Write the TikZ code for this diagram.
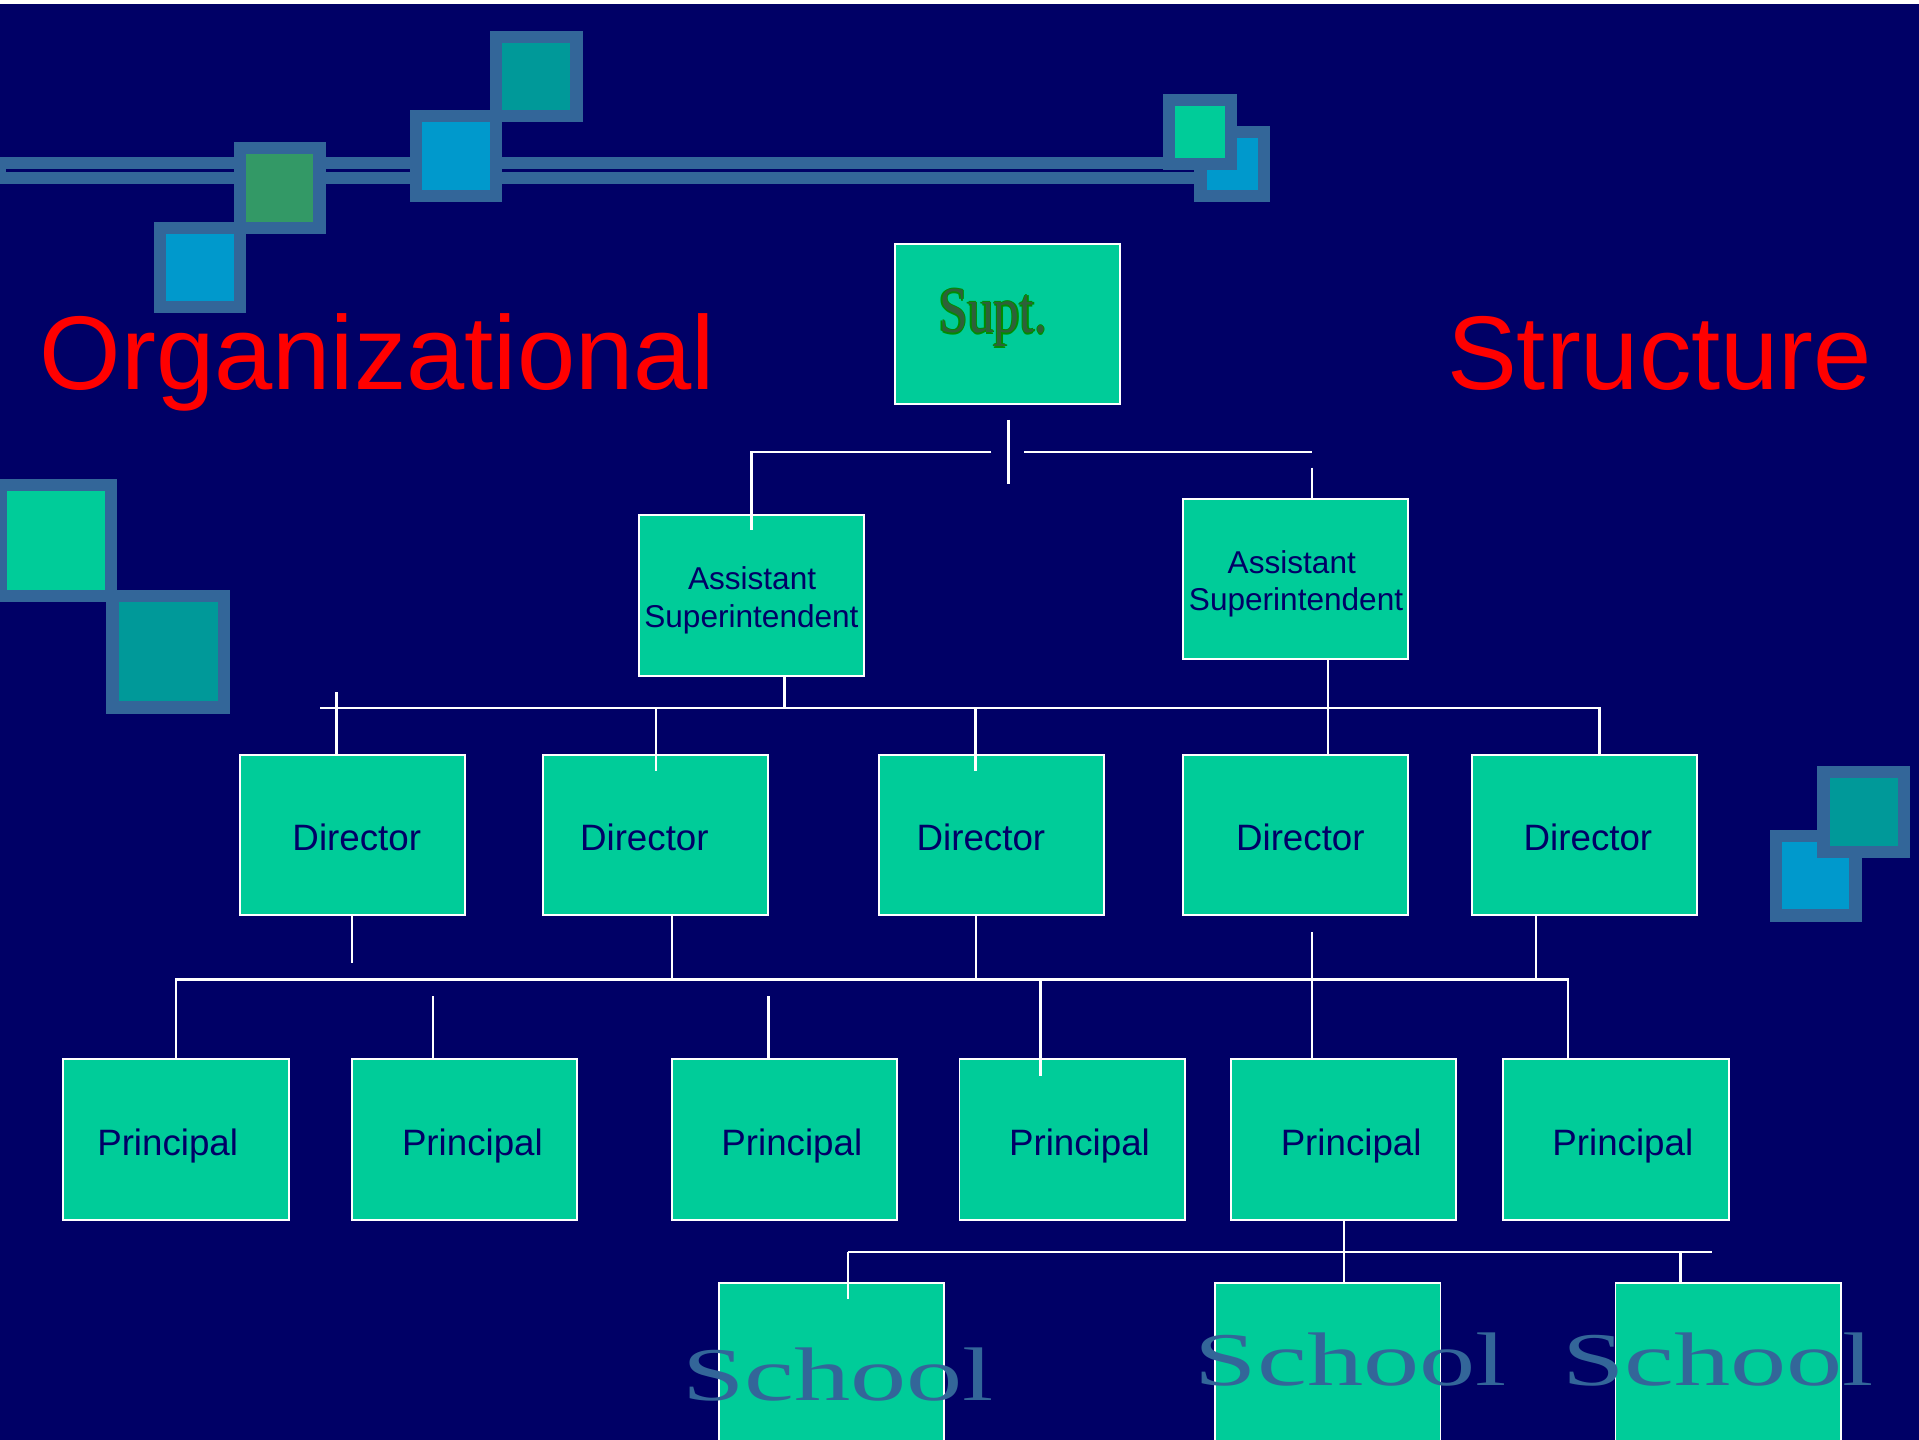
\documentclass[tikz,border=0pt]{standalone}
\usepackage{fontspec}
\setmainfont{Liberation Sans}
\newfontfamily\serifL{Liberation Serif}
\definecolor{navy}{HTML}{000066}
\definecolor{boxfill}{HTML}{00CC99}
\definecolor{sqb}{HTML}{336699}
\definecolor{sqteal}{HTML}{009999}
\definecolor{sqblue}{HTML}{0099CC}
\definecolor{sqgreen}{HTML}{339966}
\definecolor{schooltxt}{HTML}{336699}
\definecolor{suptgreen}{HTML}{008C00}
\definecolor{suptdark}{HTML}{2F5F3A}
\definecolor{titlered}{HTML}{FF0000}

\newcommand\decosq[5]{%
  \fill[sqb] (#1,#2) rectangle (#3,#4);
  \fill[#5] ({#1+10},{#2+10}) rectangle ({#3-10},{#4-10});}
\newcommand\supword{\scalebox{0.79}[1]{Supt.}}
\newcommand\schoolword{\scalebox{1.48}[1]{School}}

\tikzset{
 obox/.style={rectangle, fill=boxfill, draw=white, line width=0.8pt,
   minimum width=92pt, minimum height=65.5pt, inner sep=0pt},
 sbox/.style={obox, minimum height=90pt},
 conn/.style={draw=white, line width=1pt},
 dtext/.style={anchor=base, inner sep=0pt, text=navy, font=\fontsize{15}{18}\selectfont},
 atext/.style={anchor=base, inner sep=0pt, text=navy, font=\fontsize{12.9}{15}\selectfont},
 titletext/.style={anchor=base west, inner sep=0pt, text=titlered, font=\fontsize{42.8}{50}\selectfont},
 schooltext/.style={anchor=base west, inner sep=0pt, text=schooltxt, font=\serifL\fontsize{31}{36}\selectfont},
 supttext/.style={anchor=base west, inner sep=0pt, font=\serifL\fontsize{26.8}{30}\selectfont},
}

\begin{document}
\begin{tikzpicture}[x=0.5pt,y=-0.5pt]
\useasboundingbox (0,0) rectangle (1568,1176);
\clip (-20,-20) rectangle (1590,1196);
\fill[navy] (-20,-20) rectangle (1590,1196);
\fill[white] (-20,-20) rectangle (1590,3.3);

% decorative bars
\fill[sqb] (-20,128) rectangle (1000,150.6);
\fill[navy] (4.7,138.1) rectangle (995,140.8);

% decorative squares
\decosq{126}{181}{201}{256}{sqblue}
\decosq{191}{116}{266}{191}{sqgreen}
\decosq{335}{90}{410}{165}{sqblue}
\decosq{400}{25}{476}{100}{sqteal}
\decosq{976}{103}{1038}{165}{sqblue}
\decosq{950}{77}{1011}{139}{boxfill}
\decosq{-4}{391}{96}{492}{boxfill}
\decosq{87}{482}{188}{583}{sqteal}
\decosq{1446}{678}{1521}{753}{sqblue}
\decosq{1485}{626}{1561}{701}{sqteal}

% titles
\node[titletext] (torg) at (32,318) {Organizational};
\node[titletext] (tstr) at (1182,318) {Structure};

% boxes
\node[obox] (supt) at (823.25,264.5) {};
\node[obox] (as1) at (614,486.5) {};
\node[obox] (as2) at (1058.5,473) {};
\node[obox] (d1) at (288,682.5) {};
\node[obox] (d2) at (535.75,682.5) {};
\node[obox] (d3) at (810,682.5) {};
\node[obox] (d4) at (1058.7,682.5) {};
\node[obox] (d5) at (1294.6,682.5) {};
\node[obox] (p1) at (143.8,931) {};
\node[obox] (p2) at (379.3,931) {};
\node[obox] (p3) at (640.7,931) {};
\node[obox] (p4) at (876,931) {};
\node[obox] (p5) at (1097.9,931) {};
\node[obox] (p6) at (1320.4,931) {};
\node[sbox] (s1) at (679.5,1138) {};
\node[sbox] (s2) at (1085,1138) {};
\node[sbox] (s3) at (1412,1138) {};

% box texts
\node[supttext, text=suptgreen] (suptA) at (766,272) {\supword};
\node[supttext, text=suptgreen] (suptB) at (768,272) {\supword};
\node[supttext, text=suptgreen] (suptC) at (767,271) {\supword};
\node[supttext, text=suptgreen] (suptD) at (767,273) {\supword};
\node[supttext, text=suptdark] (suptE) at (767,272) {\supword};

\node[atext] (as1a) at (614.5,482) {Assistant};
\node[atext] (as1b) at (614,512.5) {Superintendent};
\node[atext] (as2a) at (1055.5,468.5) {Assistant};
\node[atext] (as2b) at (1059,499) {Superintendent};

\node[dtext] (d1t) at (291.5,695) {Director};
\node[dtext] (d2t) at (526.5,695) {Director};
\node[dtext] (d3t) at (801.5,695) {Director};
\node[dtext] (d4t) at (1062.5,695) {Director};
\node[dtext] (d5t) at (1297.5,695) {Director};

\node[dtext] (p1t) at (137,944) {Principal};
\node[dtext] (p2t) at (386,944) {Principal};
\node[dtext] (p3t) at (647,944) {Principal};
\node[dtext] (p4t) at (882,944) {Principal};
\node[dtext] (p5t) at (1104,944) {Principal};
\node[dtext] (p6t) at (1326,944) {Principal};

% connectors: Supt level
\coordinate (st1) at (824,343);
\coordinate (st2) at (824,395.5);
\draw[conn] (st1) -- (st2);
\coordinate (sl) at (810,369.5);
\coordinate (as1in) at (614,433);
\draw[conn] (sl) -- (sl -| as1in) -- (as1in);
\coordinate (sr) at (837,369.5);
\coordinate (sre) at (1072,369.5);
\draw[conn] (sr) -- (sre);
\coordinate (as2tick) at (1072,382);
\draw[conn] (as2tick) -- (as2.north -| as2tick);

% connectors: director bus
\coordinate (busL) at (261.5,578.5);
\coordinate (busR) at (1307,578.5);
\draw[conn] (busL) -- (busR) -- (d5.north -| busR);
\coordinate (j641) at (641,578.5);
\draw[conn] (as1.south -| j641) -- (j641);
\coordinate (j1085) at (1085,578.5);
\draw[conn] (as2.south -| j1085) -- (d4.north -| j1085);
\coordinate (d1tick) at (275,565.5);
\draw[conn] (d1tick) -- (d1.north -| d1tick);
\coordinate (j536) at (536,578.5);
\coordinate (d2in) at (536,630);
\draw[conn] (j536) -- (d2in);
\coordinate (j797) at (797,578.5);
\coordinate (d3in) at (797,630);
\draw[conn] (j797) -- (d3in);

% connectors: principal bus
\coordinate (bus2L) at (144,800.5);
\coordinate (bus2R) at (1281,800.5);
\draw[conn] (p1.north -| bus2L) -- (bus2L) -- (bus2R) -- (p6.north -| bus2R);
\coordinate (d1end) at (287.6,787);
\draw[conn] (d1.south -| d1end) -- (d1end);
\coordinate (k549) at (549,800.5);
\draw[conn] (d2.south -| k549) -- (k549);
\coordinate (k797) at (797.6,800.5);
\draw[conn] (d3.south -| k797) -- (k797);
\coordinate (d4start) at (1072,761.6);
\draw[conn] (d4start) -- (p5.north -| d4start);
\coordinate (k1255) at (1255,800.5);
\draw[conn] (d5.south -| k1255) -- (k1255);
\coordinate (p2tick) at (354,814);
\draw[conn] (p2tick) -- (p2.north -| p2tick);
\coordinate (p3tick) at (628,814);
\draw[conn] (p3tick) -- (p3.north -| p3tick);
\coordinate (k850) at (850,800.5);
\coordinate (p4in) at (850,879);
\draw[conn] (k850) -- (p4in);

% connectors: school bus
\coordinate (m1098) at (1098,1023);
\draw[conn] (p5.south -| m1098) -- (s2.north -| m1098);
\coordinate (bus3L) at (693,1023);
\coordinate (bus3R) at (1399,1023);
\draw[conn] (bus3L) -- (bus3R);
\coordinate (s1in) at (693,1061);
\draw[conn] (bus3L) -- (s1in);
\coordinate (m1373) at (1373,1023);
\draw[conn] (m1373) -- (s3.north -| m1373);

% school texts
\node[schooltext] (s1t) at (557,1144) {\schoolword};
\node[schooltext] (s2t) at (976,1132) {\schoolword};
\node[schooltext] (s3t) at (1276,1132) {\schoolword};
\end{tikzpicture}
\end{document}
